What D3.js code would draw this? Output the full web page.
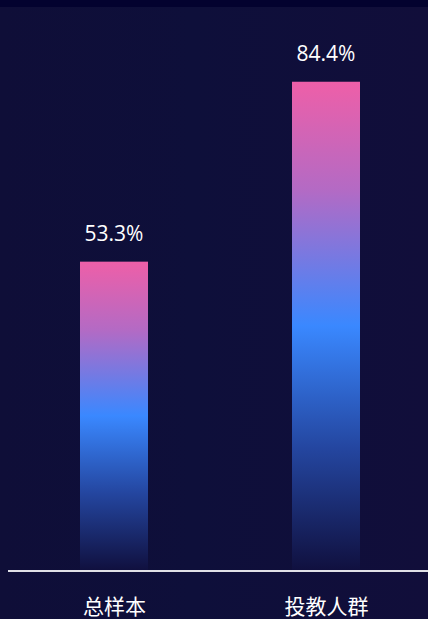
<!DOCTYPE html>
<html><head><meta charset="utf-8">
<script src="https://cdn.jsdelivr.net/npm/d3@7"></script>
<style>
html,body{margin:0;padding:0;background:#0f0e38;}
svg{display:block;}
</style></head>
<body><div id="chart"></div>
<script>
const categories = ["总样本", "投教人群"];
const values = [53.3, 84.4];
const valueLabels = ["53.3%", "84.4%"];

const W = 428, H = 619;
const svg = d3.select("#chart").append("svg").attr("width", W).attr("height", H);
const defs = svg.append("defs");

const bg = defs.append("linearGradient").attr("id","bg").attr("x1","0").attr("x2","1").attr("y1","0").attr("y2","0");
bg.append("stop").attr("offset","0").attr("stop-color","#0f0e38");
bg.append("stop").attr("offset","0.45").attr("stop-color","#0e0f3a");
bg.append("stop").attr("offset","1").attr("stop-color","#110e3a");
svg.append("rect").attr("width",W).attr("height",H).attr("fill","url(#bg)");
svg.append("rect").attr("width",W).attr("height",7).attr("fill","#03022f");

const grad = defs.append("linearGradient").attr("id","barGrad").attr("x1","0").attr("x2","0").attr("y1","0").attr("y2","1");
grad.append("stop").attr("offset","0").attr("stop-color","#ee5fa8");
grad.append("stop").attr("offset","0.22").attr("stop-color","#b46ac4");
grad.append("stop").attr("offset","0.5").attr("stop-color","#3a88ff");
grad.append("stop").attr("offset","0.75").attr("stop-color","#2446a0");
grad.append("stop").attr("offset","1").attr("stop-color","#10103f");

const x = d3.scalePoint().domain(categories).range([114, 326]);
const y = d3.scaleLinear().domain([0, 100]).range([570, -8.5]);

const bw = 68;
const g = svg.append("g");
g.selectAll("rect.bar").data(values).join("rect").attr("class","bar")
  .attr("x",(d,i)=>x(categories[i]) - bw/2)
  .attr("y",d=>y(d))
  .attr("width",bw)
  .attr("height",d=>y(0)-y(d))
  .attr("fill","url(#barGrad)");

g.selectAll("text.val").data(values).join("text").attr("class","val")
  .attr("x",(d,i)=>x(categories[i]))
  .attr("y",d=>y(d)-21)
  .attr("text-anchor","middle")
  .attr("fill","#ffffff")
  .attr("font-family","'Open Sans','Noto Sans',sans-serif")
  .attr("font-size",21)
  .text((d,i)=>valueLabels[i]);

const axis = d3.axisBottom(x).tickSize(0).tickPadding(28);
const ax = svg.append("g").attr("transform","translate(0,571)").call(axis);
ax.select(".domain").attr("stroke","#e0e0e6").attr("stroke-width",2).attr("d","M8,0H428");
ax.selectAll("text").attr("fill","#ffffff").attr("font-size",21)
  .attr("font-family","'Noto Sans CJK SC',sans-serif");
</script></body></html>
